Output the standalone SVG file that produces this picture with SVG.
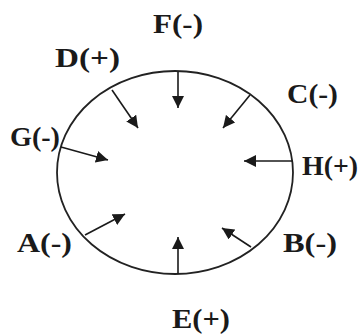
<svg xmlns="http://www.w3.org/2000/svg" width="358" height="335" viewBox="0 0 358 335">
<style>
.lbl{font-family:"Liberation Serif","Times New Roman",serif;font-weight:bold;font-size:27px;fill:#1a1a1a}
.ar{stroke:#1a1a1a;stroke-width:1.6;fill:none;marker-end:url(#ah)}
</style>
<defs>
<marker id="ah" viewBox="0 0 10 10" refX="10" refY="5" markerWidth="12" markerHeight="12" markerUnits="userSpaceOnUse" orient="auto">
<path d="M0,0 L10,5 L0,10 z" fill="#1a1a1a"/>
</marker>
</defs>
<rect width="358" height="335" fill="#fff"/>
<g id="body">
<ellipse cx="175" cy="172.5" rx="118" ry="101.5" fill="none" stroke="#222" stroke-width="1.8"/>
</g>
<g id="connectors">
<line class="ar" x1="178" y1="72" x2="178" y2="108"/>
<line class="ar" x1="112" y1="90" x2="138" y2="128"/>
<line class="ar" x1="250" y1="95" x2="223" y2="128"/>
<line class="ar" x1="61" y1="147" x2="108" y2="160"/>
<line class="ar" x1="293" y1="161" x2="244" y2="161"/>
<line class="ar" x1="85" y1="235" x2="125" y2="214"/>
<line class="ar" x1="251" y1="247" x2="222" y2="228"/>
<line class="ar" x1="178" y1="274" x2="178" y2="237"/>
</g>
<g id="F"><text class="lbl" x="153" y="33" textLength="50" lengthAdjust="spacingAndGlyphs">F(-)</text></g>
<g id="D"><text class="lbl" x="55" y="67" textLength="65" lengthAdjust="spacingAndGlyphs">D(+)</text></g>
<g id="G"><text class="lbl" x="10" y="146" textLength="50" lengthAdjust="spacingAndGlyphs">G(-)</text></g>
<g id="C"><text class="lbl" x="287" y="103" textLength="51" lengthAdjust="spacingAndGlyphs">C(-)</text></g>
<g id="H"><text class="lbl" x="302" y="175" textLength="56" lengthAdjust="spacingAndGlyphs">H(+)</text></g>
<g id="A"><text class="lbl" x="17" y="252" textLength="55" lengthAdjust="spacingAndGlyphs">A(-)</text></g>
<g id="B"><text class="lbl" x="283" y="252" textLength="54" lengthAdjust="spacingAndGlyphs">B(-)</text></g>
<g id="E"><text class="lbl" x="172" y="328" textLength="58" lengthAdjust="spacingAndGlyphs">E(+)</text></g>
</svg>
